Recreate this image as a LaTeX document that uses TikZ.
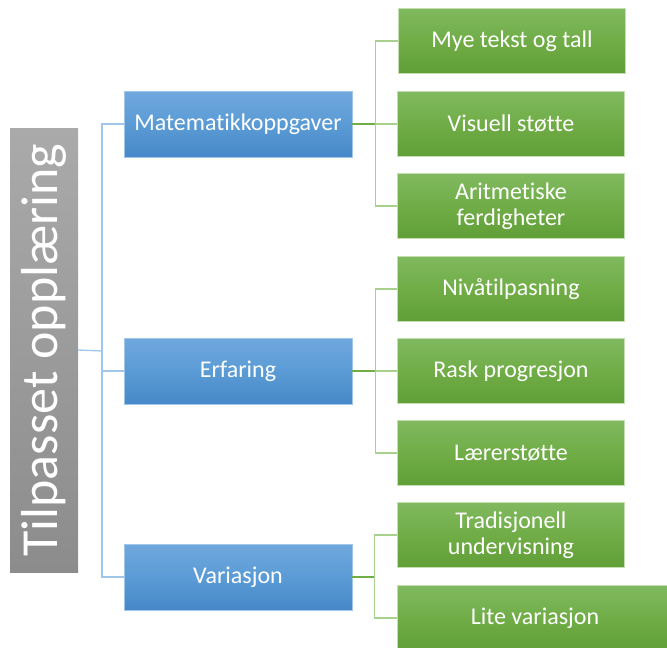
\documentclass[tikz,border=0pt]{standalone}
\usepackage{fontspec}
\setmainfont{Carlito}[Ligatures=NoCommon]
\usetikzlibrary{positioning, calc}
\definecolor{rootgrayA}{RGB}{170, 170, 170}
\definecolor{rootgrayB}{RGB}{140, 140, 140}
\definecolor{catblueA}{RGB}{112, 168, 222}
\definecolor{catblueB}{RGB}{91, 155, 213}
\definecolor{catblueC}{RGB}{70, 136, 200}
\definecolor{leafgreenA}{RGB}{128, 185, 95}
\definecolor{leafgreenB}{RGB}{112, 173, 71}
\definecolor{leafgreenC}{RGB}{96, 158, 56}
\definecolor{linkblue}{RGB}{160, 198, 234}
\definecolor{linkgreen}{RGB}{169, 209, 142}
\definecolor{stubgreen}{RGB}{112, 173, 71}
\tikzset{
    rootbox/.style={
        top color=rootgrayA, bottom color=rootgrayB,
        minimum width=68pt, minimum height=444pt, inner sep=0pt
    },
    roottext/.style={
        rotate=90, text=white, inner sep=0pt,
        font=\fontsize{52}{56}\selectfont
    },
    catnode/.style={
        draw=linkblue, line width=0.8pt, top color=catblueA, bottom color=catblueC,
        middle color=catblueB, text=white, minimum width=228pt, minimum height=66pt,
        inner sep=0pt, align=center, font=\fontsize{24}{26}\selectfont
    },
    leafnode/.style={
        draw=linkgreen!70!white, line width=0.8pt, top color=leafgreenA, bottom color=leafgreenC,
        middle color=leafgreenB, text=white, minimum width=227pt, minimum height=65pt,
        inner sep=0pt, align=center, font=\fontsize{24}{26}\selectfont
    },
    bluelink/.style={draw=linkblue, line width=1.3pt},
    leaflink/.style={draw=linkgreen, line width=1.3pt},
    stublink/.style={draw=stubgreen, line width=1.3pt}
}

\begin{document}
\begin{tikzpicture}[x=1pt, y=-1pt]
        \useasboundingbox (0,0) rectangle (667,648);

        % ======================================
        % ROT (rotert tekst)
        % ======================================
        \node[rootbox] (root) at (44,350) {};
        \node[roottext] (roottxt) at (root.center) {Tilpasset opplæring};

        % ======================================
        % KATEGORIER (blå)
        % ======================================
        \node[catnode] (mat) at (238,124) {Matematikkoppgaver};
        \node[catnode] (erf) at (238,371) {Erfaring};
        \node[catnode] (var) at (238,577) {Variasjon};

        % ======================================
        % UNDERPUNKTER (grønne)
        % ======================================
        \node[leafnode] (mye) at (512,41) {Mye tekst og tall};
        \node[leafnode] (vis) at (511,124) {Visuell støtte};
        \node[leafnode] (ari) at (511,206) {Aritmetiske\\ferdigheter};
        \node[leafnode] (niv) at (511,289) {Nivåtilpasning};
        \node[leafnode] (ras) at (511,371) {Rask progresjon};
        \node[leafnode] (lae) at (511,453) {Lærerstøtte};
        \node[leafnode] (tra) at (511,535) {Tradisjonell\\undervisning};
        \node[leafnode, minimum width=276pt] (lit) at (535,618) {Lite variasjon};

        % ======================================
        % KOBLINGER
        % ======================================
        \coordinate (rootfork) at (102,351);
        \draw[bluelink] (root.east) -- (rootfork);
        \draw[bluelink] (mat.west) -| (rootfork) |- (var.west);
        \draw[bluelink] (rootfork) |- (erf.west);

        \coordinate (matfork) at ($(mat.east)+(23,0)$);
        \draw[leaflink] (mye.west) -| (matfork) |- (ari.west);
        \draw[leaflink] (matfork) -- (vis.west);
        \draw[stublink] (mat.east) -- (matfork);

        \coordinate (erffork) at ($(erf.east)+(23,0)$);
        \draw[leaflink] (niv.west) -| (erffork) |- (lae.west);
        \draw[leaflink] (erffork) -- (ras.west);
        \draw[stublink] (erf.east) -- (erffork);

        \coordinate (varfork) at ($(var.east)+(22,0)$);
        \draw[leaflink] (tra.west) -| (varfork) |- (lit.west);
        \draw[stublink] (var.east) -- (varfork);

    \end{tikzpicture}
\end{document}
